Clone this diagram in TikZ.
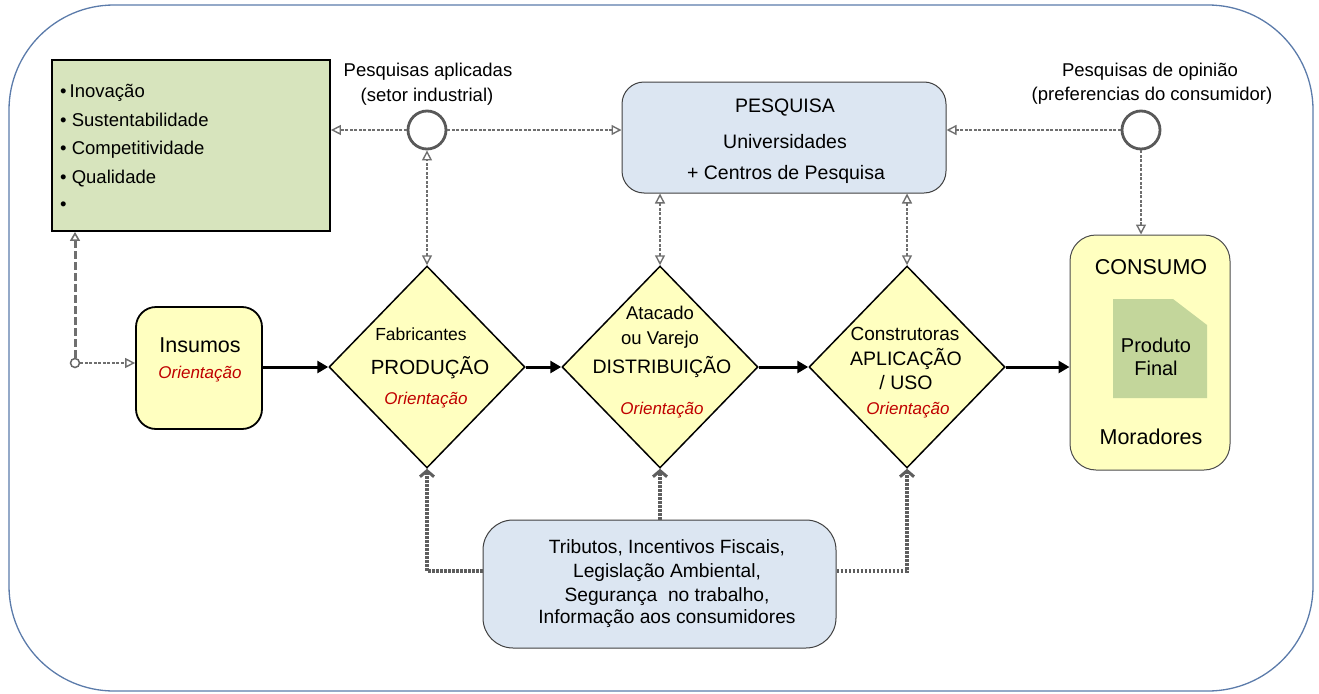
\documentclass[tikz,border=0pt]{standalone}
\usepackage{fontspec}
\setmainfont{Liberation Sans}
\usetikzlibrary{arrows.meta,shapes.geometric,calc}
\definecolor{frameblue}{HTML}{5B7BAA}
\definecolor{greenfill}{HTML}{D7E4BD}
\definecolor{bluefill}{HTML}{DCE6F2}
\definecolor{yellowfill}{HTML}{FFFFC0}
\definecolor{prodfill}{HTML}{C3D69B}
\definecolor{linegray}{HTML}{6F6F6F}
\definecolor{dotgray}{HTML}{5E5E5E}
\definecolor{orired}{HTML}{C00000}
\newcommand{\fs}[1]{\fontsize{#1}{#1}\selectfont}
\tikzset{
  txt/.style={inner sep=0pt, font=\fs{18.5}},
  ori/.style={inner sep=0pt, font=\fs{17}\itshape, text=orired},
  bluebox/.style={draw=black!75, line width=1pt, fill=bluefill, rounded corners=22pt, inner sep=0pt},
  yelbox/.style={draw=black, line width=1.8pt, fill=yellowfill, rounded corners=22pt, inner sep=0pt},
  dia/.style={diamond, draw=black, line width=1.5pt, fill=yellowfill, inner sep=0pt},
  ring/.style={circle, draw=black!65, line width=2.8pt, fill=white, minimum size=38pt, inner sep=0pt},
  dashconn/.style={draw=linegray, line width=1.5pt, dash pattern=on 3pt off 1.5pt},
  opentip/.style={-{Triangle[open, length=10pt, width=10pt, line width=1.4pt]}},
  bothtip/.style={{Triangle[open, length=10pt, width=10pt, line width=1.4pt]}-{Triangle[open, length=10pt, width=10pt, line width=1.4pt]}},
  dotconn/.style={draw=dotgray, line width=3.2pt, dash pattern=on 2.5pt off 1.5pt, -{Straight Barb[length=6pt, width=14pt, line width=3pt]}},
  flow/.style={draw=black, line width=3pt, -{Triangle[length=11pt, width=12pt]}},
}
\begin{document}
\begin{tikzpicture}[x=1pt, y=-1pt]
\useasboundingbox (0,0) rectangle (1319,693);
% outer frame
\draw[frameblue, line width=1.3pt, rounded corners=105pt] (9,5) rectangle (1313,691);

% green box
\node[draw=black, line width=1.8pt, fill=greenfill, minimum width=278pt, minimum height=171pt, inner sep=0pt] (gb) at (191,145.5) {};
\node[txt, anchor=west] (b1) at (60,93) {•\,Inovação};
\node[txt, anchor=west] (b2) at (60,120) {•\ Sustentabilidade};
\node[txt, anchor=west] (b3) at (60,150) {•\ Competitividade};
\node[txt, anchor=west] (b4) at (60,179) {•\ Qualidade};
\node[txt, anchor=west] (b5) at (60,206) {•};

% circles and labels
\node[ring] (c1) at (427,130) {};
\node[txt] (l1a) at (428,72) {Pesquisas aplicadas};
\node[txt] (l1b) at (427,97) {(setor industrial)};
\node[ring] (c2) at (1141,130) {};
\node[txt] (l2a) at (1150,72) {Pesquisas de opinião};
\node[txt] (l2b) at (1152,96) {(preferencias do consumidor)};

% PESQUISA box
\node[bluebox, minimum width=324pt, minimum height=111pt] (pq) at (784,137.5) {};
\node[txt, font=\fs{19.5}] (pq1) at (785,108) {PESQUISA};
\node[txt, font=\fs{19.5}] (pq2) at (785,142) {Universidades};
\node[txt, font=\fs{19.5}] (pq3) at (786,174) {+ Centros de Pesquisa};

% Insumos
\node[yelbox, minimum width=126pt, minimum height=122pt, rounded corners=20pt] (ins) at (199,368) {};
\node[txt, font=\fs{21.5}] (ins1) at (200,345) {Insumos};
\node[ori] (ins2) at (200,374) {Orientação};

% diamonds
\node[dia, minimum width=196pt, minimum height=202pt] (d1) at (427,367) {};
\node[txt, font=\fs{17.5}] (d1a) at (421,334) {Fabricantes};
\node[txt, font=\fs{20.5}] (d1b) at (430,368) {PRODUÇÃO};
\node[ori] (d1c) at (426,400) {Orientação};

\node[dia, minimum width=196pt, minimum height=202pt] (d2) at (660,367) {};
\node[txt, font=\fs{18.5}] (d2a) at (660,313) {Atacado};
\node[txt, font=\fs{18.5}] (d2b) at (660,340) {ou Varejo};
\node[txt, font=\fs{19.5}] (d2c) at (662,367) {DISTRIBUIÇÃO};
\node[ori] (d2d) at (662,410) {Orientação};

\node[dia, minimum width=196pt, minimum height=202pt] (d3) at (907,367) {};
\node[txt, font=\fs{19}] (d3a) at (905,334) {Construtoras};
\node[txt, font=\fs{19.5}] (d3b) at (906,359) {APLICAÇÃO};
\node[txt, font=\fs{19.5}] (d3c) at (906,383) {/ USO};
\node[ori] (d3d) at (908,410) {Orientação};

% CONSUMO
\node[draw=black!70, line width=1pt, fill=yellowfill, rounded corners=26pt, minimum width=160pt, minimum height=235pt, inner sep=0pt] (cons) at (1150,352.5) {};
\node[txt, font=\fs{21.5}] (cons1) at (1151,267) {CONSUMO};
\fill[prodfill] (1113,299) -- (1173,299) -- (1207,325) -- (1207,398) -- (1113,398) -- cycle;
\node[txt, font=\fs{20}, align=center] (pf) at (1156,357) {Produto\\[3pt]Final};
\node[txt, font=\fs{21.5}] (cons2) at (1151,437) {Moradores};

% bottom box
\node[bluebox, minimum width=353pt, minimum height=128pt, rounded corners=30pt] (bb) at (659.5,584) {};
\node[txt, font=\fs{19.2}] (bb1) at (667,548) {Tributos, Incentivos Fiscais,};
\node[txt, font=\fs{19.2}] (bb2) at (667,573) {Legislação Ambiental,};
\node[txt, font=\fs{19.2}] (bb3) at (667,597) {Segurança\ \ no trabalho,};
\node[txt, font=\fs{19.2}] (bb4) at (667,619) {Informação aos consumidores};

% small circle connector
\node[circle, draw=black!60, line width=1.5pt, fill=white, minimum size=9pt, inner sep=0pt] (sc) at (75,363) {};

% flow arrows
\draw[flow] (ins.east |- d1.west) -- (d1.west);
\draw[flow] (d1.east) -- (d2.west);
\draw[flow] (d2.east) -- (d3.west);
\draw[flow] (d3.east) -- (d3.east -| cons.west);

% dashed connectors
\draw[dashconn, opentip] (c1.west) -- (c1.west -| gb.east);
\draw[dashconn, opentip] (c1.east) -- (c1.east -| pq.west);
\draw[dashconn, opentip] (c2.west) -- (c2.west -| pq.east);
\draw[dashconn, opentip] (c2.south) -- (c2.south |- cons.north);
\draw[dashconn, bothtip] (d1.north) -- (c1.south);
\draw[dashconn, bothtip] (d2.north) -- (d2.north |- pq.south);
\draw[dashconn, bothtip] (d3.north) -- (d3.north |- pq.south);
\draw[dashconn, opentip] (sc.east) -- (sc.east -| ins.west);
\draw[draw=linegray, line width=3pt, dash pattern=on 8pt off 3pt, -{Triangle[open, length=9pt, width=10pt, line width=1.6pt]}] (sc.north) -- (sc.north |- gb.south);

% dotted connectors from bottom box
\coordinate (bl) at (427,571);
\coordinate (br) at (907,571);
\draw[dotconn] (bl -| bb.west) -- (bl) -- (d1.south);
\draw[dotconn] (bb.north -| d2.south) -- (d2.south);
\draw[dotconn] (br -| bb.east) -- (br) -- (d3.south);
\end{tikzpicture}
\end{document}
